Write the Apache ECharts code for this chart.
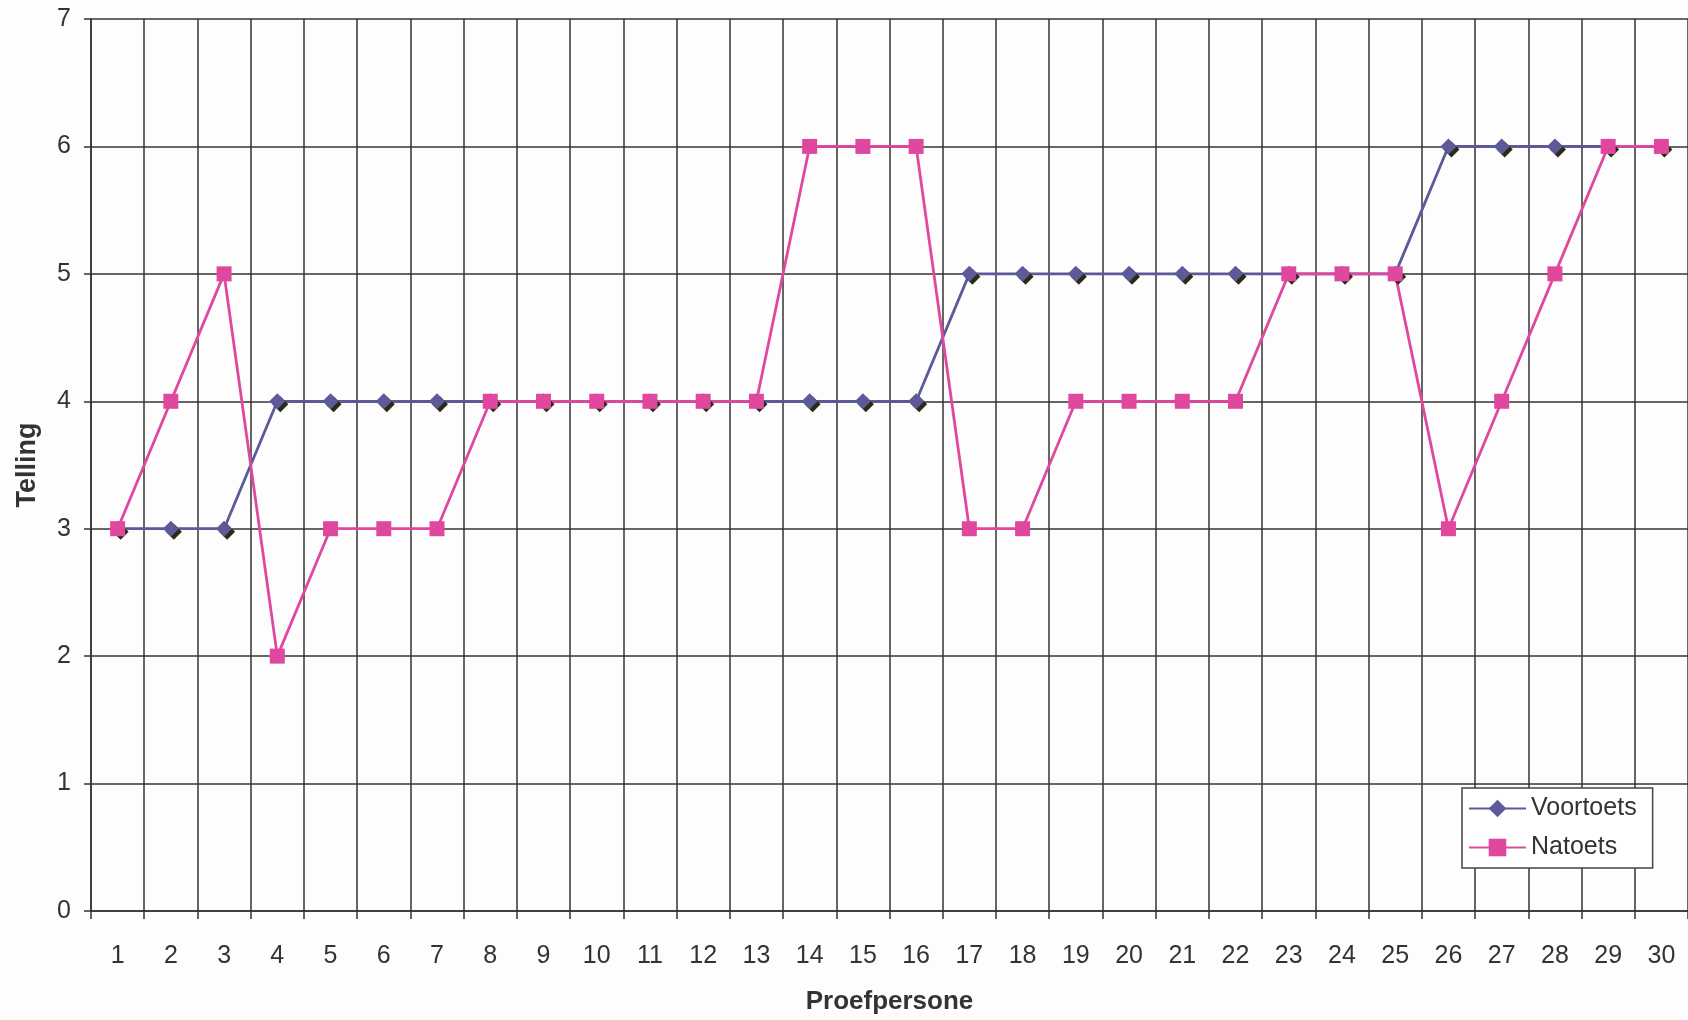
<!DOCTYPE html>
<html>
<head>
<meta charset="utf-8">
<script src="https://cdn.jsdelivr.net/npm/echarts@6/dist/echarts.min.js"></script>
<style>
html,body{margin:0;padding:0;background:#fdfdfd;}
#chart{width:1688px;height:1020px;}
</style>
</head>
<body>
<div id="chart"></div>
<script>
const categories = ['1','2','3','4','5','6','7','8','9','10','11','12','13','14','15','16','17','18','19','20','21','22','23','24','25','26','27','28','29','30'];
const voortoets = [3,3,3,4,4,4,4,4,4,4,4,4,4,4,4,4,5,5,5,5,5,5,5,5,5,6,6,6,6,6];
const natoets   = [3,4,5,2,3,3,3,4,4,4,4,4,4,6,6,6,3,3,4,4,4,4,5,5,5,3,4,5,6,6];
const yTicks = [0,1,2,3,4,5,6,7];

const FONT = 'Liberation Sans, Arial, sans-serif';
const chart = echarts.init(document.getElementById('chart'));
chart.setOption({
  backgroundColor: '#fdfdfd',
  animation: false,
  grid: { left: 91, top: 19, right: -7, bottom: 100, containLabel: false },
  legend: {
    orient: 'vertical',
    left: 1462, top: 788,
    backgroundColor: '#ffffff',
    borderColor: '#444', borderWidth: 1.5,
    padding: [8, 16, 8, 6],
    itemWidth: 57, itemHeight: 22, itemGap: 14,
    itemStyle: { shadowBlur: 0, shadowOffsetX: 0, shadowOffsetY: 0, shadowColor: 'rgba(0,0,0,0)' },
    textStyle: { fontFamily: FONT, fontSize: 25, color: '#333' },
    data: ['Voortoets', 'Natoets']
  },
  xAxis: {
    type: 'category',
    data: categories,
    boundaryGap: true,
    name: 'Proefpersone',
    nameLocation: 'middle',
    nameGap: 78,
    nameTextStyle: { fontFamily: FONT, fontSize: 26, fontWeight: 'bold', color: '#333' },
    axisLine: { show: true, lineStyle: { color: '#333', width: 1.5 } },
    axisTick: { show: true, length: 8, interval: 0, lineStyle: { color: '#333', width: 1.5 } },
    axisLabel: { fontFamily: FONT, fontSize: 25, color: '#333', margin: 33, interval: 0 },
    splitLine: { show: true, interval: 0, lineStyle: { color: '#333', width: 1.5 } }
  },
  yAxis: {
    type: 'value',
    min: yTicks[0], max: yTicks[yTicks.length - 1], interval: 1,
    name: 'Telling',
    nameLocation: 'middle',
    nameGap: 50,
    nameTextStyle: { fontFamily: FONT, fontSize: 27, fontWeight: 'bold', color: '#333' },
    axisLine: { show: true, lineStyle: { color: '#333', width: 1.5 } },
    axisTick: { show: true, length: 7, lineStyle: { color: '#333', width: 1.5 } },
    axisLabel: { fontFamily: FONT, fontSize: 25, color: '#333', margin: 20 },
    splitLine: { show: true, lineStyle: { color: '#333', width: 1.5 } }
  },
  series: [
    {
      name: 'Voortoets',
      type: 'line',
      data: voortoets,
      symbol: 'diamond',
      symbolSize: 16,
      lineStyle: { color: '#5c5a98', width: 2.8 },
      itemStyle: { color: '#5c5a98', shadowColor: '#2b2b14', shadowOffsetX: 3, shadowOffsetY: 3, shadowBlur: 0 }
    },
    {
      name: 'Natoets',
      type: 'line',
      data: natoets,
      symbol: 'rect',
      symbolSize: 15,
      lineStyle: { color: '#e0489f', width: 2.8 },
      itemStyle: { color: '#e0489f' }
    }
  ]
});
</script>
</body>
</html>
